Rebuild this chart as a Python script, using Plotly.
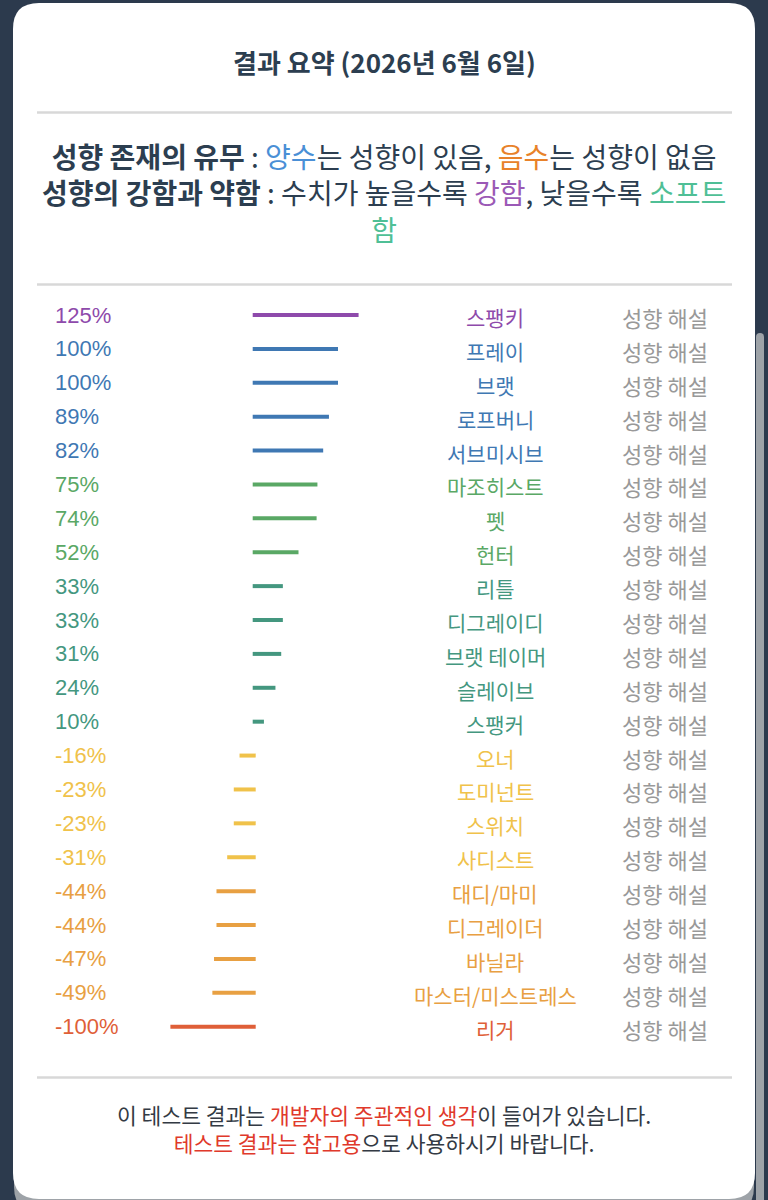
import plotly.graph_objects as go

# ---------------- data ----------------
names = ["스팽키", "프레이", "브랫", "로프버니", "서브미시브", "마조히스트", "펫", "헌터",
         "리틀", "디그레이디", "브랫 테이머", "슬레이브", "스팽커", "오너", "도미넌트",
         "스위치", "사디스트", "대디/마미", "디그레이더", "바닐라", "마스터/미스트레스", "리거"]
values = [125, 100, 100, 89, 82, 75, 74, 52, 33, 33, 31, 24, 10,
          -16, -23, -23, -31, -44, -44, -47, -49, -100]
groups = ["purple", "blue", "blue", "blue", "blue", "green", "green", "green",
          "teal", "teal", "teal", "teal", "teal", "yellow", "yellow", "yellow", "yellow",
          "orange", "orange", "orange", "orange", "red"]
detail_label = "성향 해설"
title_text = "결과 요약 (2026년 6월 6일)"

# ---------------- style ----------------
W, H = 768, 1200
group_colors = {
    "purple": "#8e4aab", "blue": "#3f78b3", "green": "#5aa865", "teal": "#44977f",
    "yellow": "#f0c24a", "orange": "#e8a042", "red": "#df5f38",
}
colors = [group_colors[g] for g in groups]
BG = "#2c3a4d"
DARK = "#2c3e50"
KR = "Noto Sans CJK KR"

ZERO_PX, PX_PER_PCT = 254.2, 0.823
ROW0_PX, ROW_PX = 315.0, 33.89
BAR_LINE = 3

def py(p):
    return 1 - p / H

def px(p):
    return p / W

x0 = -ZERO_PX / PX_PER_PCT
x1 = x0 + W / PX_PER_PCT
y_top = -ROW0_PX / ROW_PX
y_bot = (H - ROW0_PX) / ROW_PX

fig = go.Figure()
fig.add_trace(go.Bar(
    x=values, y=names, orientation="h",
    width=1.0 / ROW_PX,
    marker=dict(color=colors, line=dict(color=colors, width=BAR_LINE)),
    hoverinfo="skip", showlegend=False,
))

def rrect(xa, ya, xb, yb, r):
    rx, ry = r / W, r / H
    X0, X1 = px(xa), px(xb)
    Y0, Y1 = py(ya), py(yb)
    return (f"M {X0+rx},{Y0} L {X1-rx},{Y0} Q {X1},{Y0} {X1},{Y0-ry} "
            f"L {X1},{Y1+ry} Q {X1},{Y1} {X1-rx},{Y1} L {X0+rx},{Y1} "
            f"Q {X0},{Y1} {X0},{Y1+ry} L {X0},{Y0-ry} Q {X0},{Y0} {X0+rx},{Y0} Z")

shapes = [
    dict(type="path", xref="paper", yref="paper", path=rrect(14, 1120, 754, 1212, 25),
         fillcolor="#9ea3a8", line=dict(width=0), layer="below"),
    dict(type="path", xref="paper", yref="paper", path=rrect(13, 3, 755, 1199, 26),
         fillcolor="white", line=dict(width=0), layer="below"),
    dict(type="path", xref="paper", yref="paper", path=rrect(756, 333, 764, 1215, 4),
         fillcolor="#9ea3a8", line=dict(width=0), layer="below"),
]
for ypx in (112.5, 284.5, 1077.5):
    shapes.append(dict(type="line", xref="paper", yref="paper",
                       x0=px(37), x1=px(732), y0=py(ypx), y1=py(ypx),
                       line=dict(color="#d8d8d8", width=2.5), layer="below"))

ann = []
ann.append(dict(text=f"<b>{title_text}</b>", x=0.5, y=py(62), xref="paper", yref="paper",
                showarrow=False, xanchor="center", yanchor="middle",
                font=dict(family=KR, size=26, color=DARK)))

blue_c, orange_c, purple_c, mint_c, red_c = "#4a8fd6", "#e8822a", "#9b59b6", "#4fbf96", "#e0392b"
legend_text = (
    f"<b>성향 존재의 유무</b> : <span style='color:{blue_c}'>양수</span>는 성향이 있음, "
    f"<span style='color:{orange_c}'>음수</span>는 성향이 없음<br>"
    f"<b>성향의 강함과 약함</b> : 수치가 높을수록 <span style='color:{purple_c}'>강함</span>, "
    f"낮을수록 <span style='color:{mint_c}'>소프트</span><br>"
    f"<span style='color:{mint_c}'>함</span>"
)
ann.append(dict(text=legend_text, x=0.5, y=py(192.5), xref="paper", yref="paper",
                showarrow=False, xanchor="center", yanchor="middle", align="center",
                font=dict(family=KR, size=28, color=DARK)))

for n, v, c in zip(names, values, colors):
    ann.append(dict(text=f"{v}%", x=px(53), y=n, xref="paper", yref="y", showarrow=False,
                    xanchor="left", yanchor="middle",
                    font=dict(family="Liberation Sans", size=22, color=c)))
    ann.append(dict(text=n, x=px(495), y=n, xref="paper", yref="y", showarrow=False,
                    xanchor="center", yanchor="middle", yshift=-2,
                    font=dict(family=KR, size=21, color=c)))
    ann.append(dict(text=detail_label, x=px(665), y=n, xref="paper", yref="y", showarrow=False,
                    xanchor="center", yanchor="middle", yshift=-2,
                    font=dict(family=KR, size=22, color="#999999")))

foot_text = (
    f"이 테스트 결과는 <span style='color:{red_c}'>개발자의 주관적인 생각</span>이 들어가 있습니다.<br>"
    f"<span style='color:{red_c}'>테스트 결과는 참고용</span>으로 사용하시기 바랍니다."
)
ann.append(dict(text=foot_text, x=0.5, y=py(1128), xref="paper", yref="paper", showarrow=False,
                xanchor="center", yanchor="middle", align="center",
                font=dict(family=KR, size=21.5, color="#333a44")))

fig.update_layout(
    width=W, height=H, margin=dict(l=0, r=0, t=0, b=0),
    paper_bgcolor=BG, plot_bgcolor="rgba(0,0,0,0)",
    xaxis=dict(range=[x0, x1], visible=False, fixedrange=True),
    yaxis=dict(type="category", categoryorder="array", categoryarray=names,
               range=[y_bot, y_top], visible=False, fixedrange=True),
    shapes=shapes, annotations=ann, showlegend=False,
)
fig.write_html("out.html", config={"displayModeBar": False})
